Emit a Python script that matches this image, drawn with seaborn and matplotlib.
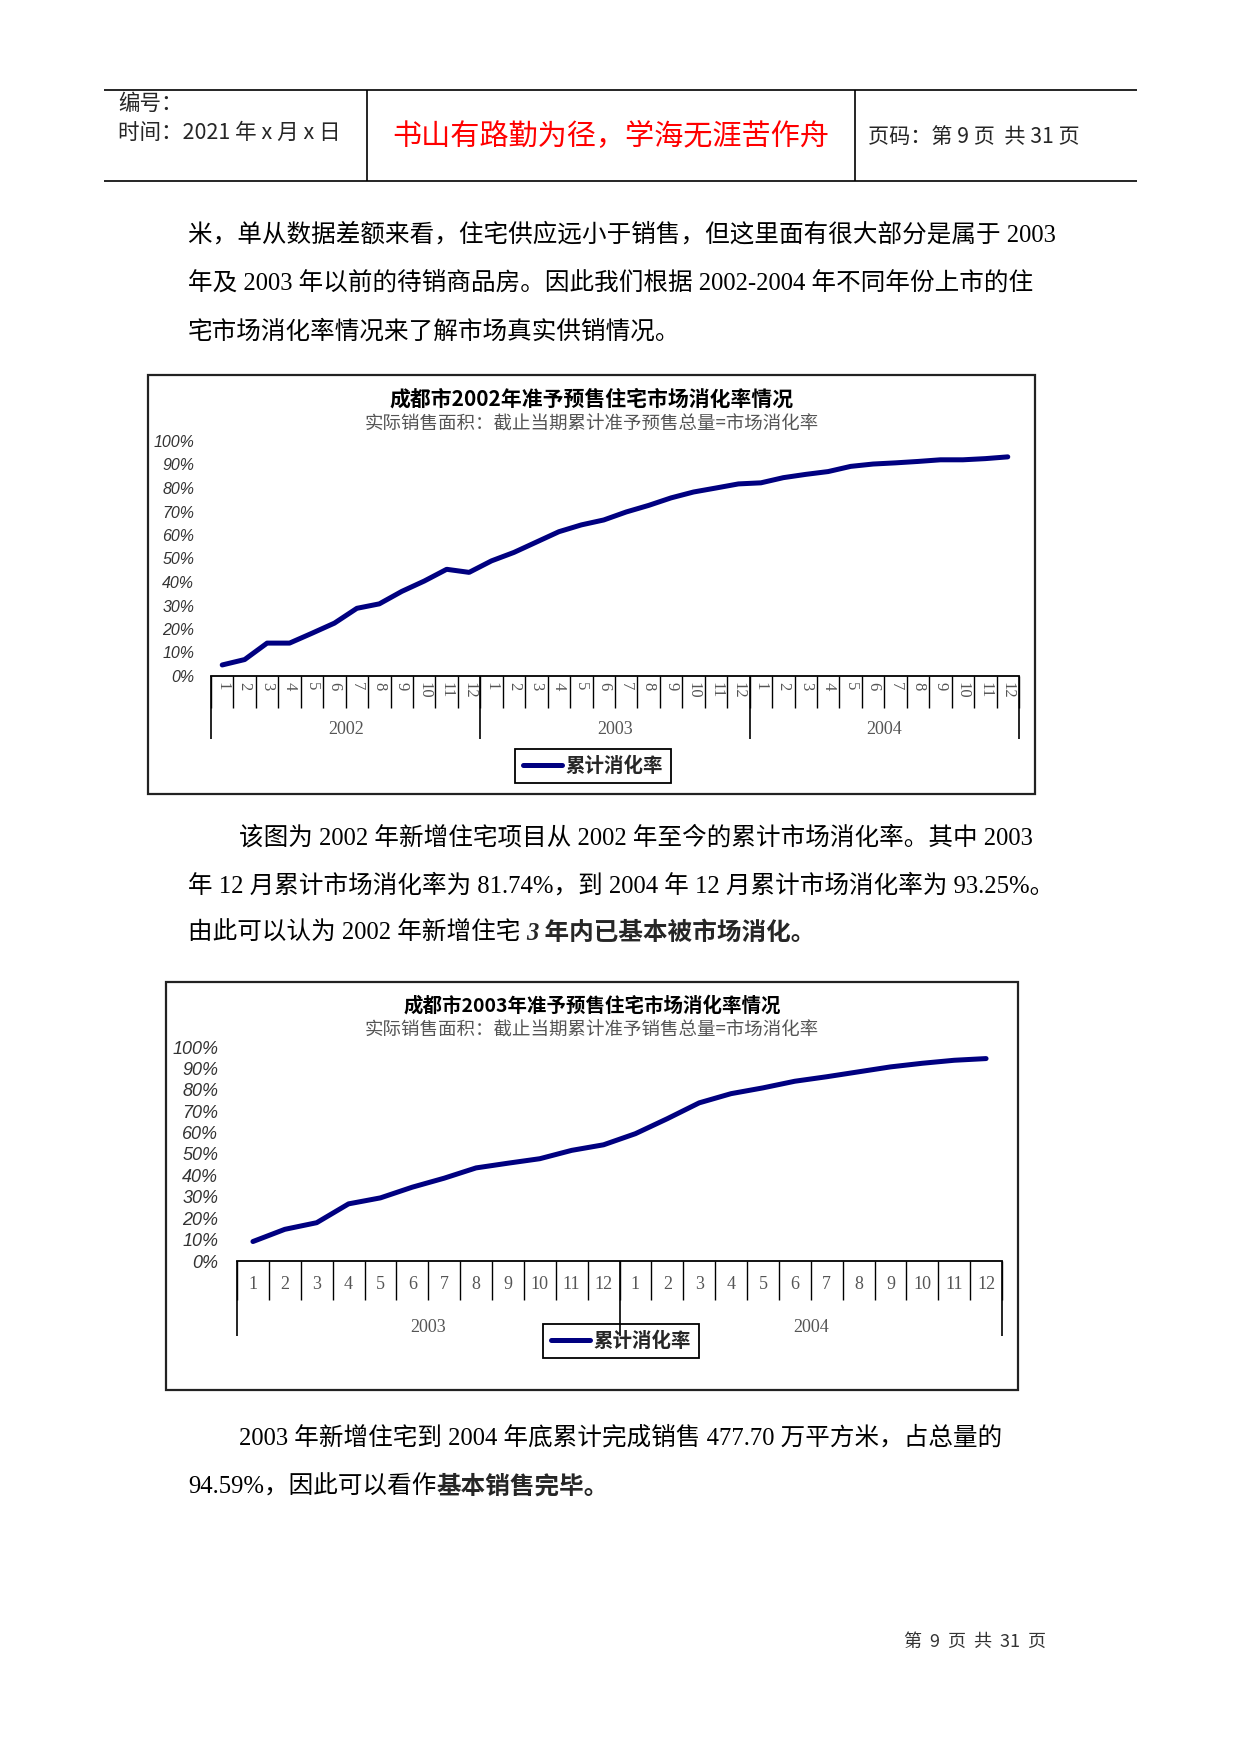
import matplotlib
matplotlib.use("Agg")
import matplotlib.pyplot as plt
from matplotlib.patches import Rectangle
import numpy as np
import pandas as pd
import seaborn as sns

W, H = 1241, 1754

# values (cumulative absorption rate, %)
months = [str(m) for m in range(1, 13)]
years_2002 = ["2002", "2003", "2004"]
years_2003 = ["2003", "2004"]
rate_2002 = [4.7, 7.0, 14.0, 14.0, 18.2, 22.5, 28.8, 30.7, 36.0, 40.4, 45.4, 44.1,
             49.0, 52.6, 57.0, 61.4, 64.3, 66.4, 69.8, 72.6, 75.8, 78.3, 80.0, 81.74,
             82.2, 84.4, 85.8, 87.0, 89.2, 90.2, 90.7, 91.3, 92.0, 92.0, 92.5, 93.25]
rate_2003 = [9.1, 14.8, 17.9, 26.7, 29.5, 34.5, 38.7, 43.5, 45.7, 47.8, 51.7, 54.3,
             59.5, 66.5, 73.9, 78.2, 80.9, 84.0, 86.1, 88.4, 90.7, 92.4, 93.8, 94.59]
y_ticks = list(range(0, 101, 10))

title_2002 = "成都市2002年准予预售住宅市场消化率情况"
subtitle_2002 = "实际销售面积：截止当期累计准予预售总量=市场消化率"
title_2003 = "成都市2003年准予预售住宅市场消化率情况"
subtitle_2003 = "实际销售面积：截止当期累计准予销售总量=市场消化率"
legend_label = "累计消化率"

sns.set_theme(style="white")
plt.rcParams["font.family"] = ["Noto Sans CJK SC", "DejaVu Sans"]
plt.rcParams["axes.unicode_minus"] = False

CJK = ["Noto Sans CJK SC", "DejaVu Sans"]
BODY = ["Liberation Serif", "Noto Sans CJK SC"]
NAVY = "#000080"
BODY_SIZE = 17.7


def px_rect(left, top, right, bottom):
    return [left / W, 1 - bottom / H, (right - left) / W, (bottom - top) / H]


def draw_chart(fig, page, rates, years, title, subtitle, box, plot, title_size,
               sub_offset, ytick_size, ytick_pad, month_rot, month_size, month_pad,
               cell_drop, year_drop, year_y, legend_center):
    # outer frame and titles
    bl, bt, br, bb = box
    page.add_patch(Rectangle((bl, bt), br - bl, bb - bt, fill=False,
                             edgecolor="#222222", lw=1.6))
    cx = (bl + br) / 2
    page.text(cx, bt + 24, title, ha="center", va="center",
              fontsize=title_size, fontweight="bold", family=CJK, color="black")
    page.text(cx, bt + sub_offset, subtitle, ha="center", va="center",
              fontsize=13.3, family=CJK, color="#555555")

    ax = fig.add_axes(px_rect(*plot))
    ax.set_facecolor("none")
    df = pd.DataFrame({"period": np.arange(len(rates)), "rate": rates})
    sns.lineplot(data=df, x="period", y="rate", ax=ax, color=NAVY, linewidth=3.6,
                 label=legend_label, solid_capstyle="round")

    n = len(rates)
    ax.set_xlim(-0.5, n - 0.5)
    ax.set_ylim(0, 100)
    ax.set_xlabel("")
    ax.set_ylabel("")
    ax.grid(False)
    sns.despine(ax=ax, left=True, top=True, right=True)
    ax.spines["bottom"].set_color("black")
    ax.spines["bottom"].set_linewidth(1.3)

    ax.set_yticks(y_ticks)
    ax.set_yticklabels([f"{v}%" for v in y_ticks], fontsize=ytick_size,
                       style="italic", family="Liberation Sans", color="#333333")
    ax.tick_params(axis="y", length=0, pad=ytick_pad)

    ax.set_xticks(range(n))
    ax.set_xticklabels(months * len(years), rotation=month_rot, fontsize=month_size,
                       family=BODY, color="#555555")
    ax.tick_params(axis="x", length=0, pad=month_pad)

    # month cells and year dividers below the axis
    plot_h = plot[3] - plot[1]
    bounds = np.arange(n + 1) - 0.5
    ax.vlines(bounds, -cell_drop / plot_h, 0, transform=ax.get_xaxis_transform(),
              colors="black", lw=1.0, clip_on=False)
    ax.vlines(bounds[::12], -year_drop / plot_h, 0, transform=ax.get_xaxis_transform(),
              colors="black", lw=1.2, clip_on=False, zorder=6)
    for k, yr in enumerate(years):
        ax.text(12 * k + 5.5, -(year_y - plot[3]) / plot_h, yr,
                transform=ax.get_xaxis_transform(), ha="center", va="center",
                fontsize=13, family=BODY, color="#555555")

    handles, labels = ax.get_legend_handles_labels()
    leg = ax.legend(handles, labels, loc="center", bbox_to_anchor=legend_center,
                    bbox_transform=page.transData, frameon=True, fancybox=False,
                    edgecolor="black", framealpha=1,
                    prop={"family": CJK, "weight": "bold", "size": 14},
                    handlelength=2.0, handletextpad=0.2, borderpad=0.4,
                    borderaxespad=0)
    leg.get_frame().set_linewidth(1.3)
    return ax


fig = plt.figure(figsize=(W / 100, H / 100), dpi=100)
fig.patch.set_facecolor("white")
page = fig.add_axes([0, 0, 1, 1])
page.set_xlim(0, W)
page.set_ylim(H, 0)
page.axis("off")

# header table
page.hlines([90, 181], 104, 1137, colors="black", lw=1.2)
page.vlines([367, 855], 90, 181, colors="black", lw=1.2)
page.text(118, 104, "编号：", ha="left", va="center", fontsize=15.5, family=CJK)
page.text(118, 133, "时间：2021 年 x 月 x 日", ha="left", va="center",
          fontsize=15.5, family=CJK)
page.text(611, 137, "书山有路勤为径，学海无涯苦作舟", ha="center", va="center",
          fontsize=21, family=CJK, color="#ff0000")
page.text(868, 137, "页码：第 9 页  共 31 页", ha="left", va="center",
          fontsize=15.2, family=CJK)

# body text
body = dict(ha="left", va="center", fontsize=BODY_SIZE, family=BODY, color="black")
page.text(188, 235, "米，单从数据差额来看，住宅供应远小于销售，但这里面有很大部分是属于 2003", **body)
page.text(188, 283, "年及 2003 年以前的待销商品房。因此我们根据 2002-2004 年不同年份上市的住", **body)
page.text(188, 332, "宅市场消化率情况来了解市场真实供销情况。", **body)

draw_chart(fig, page, rate_2002, years_2002, title_2002, subtitle_2002,
           box=(148, 375, 1035, 794), plot=(211, 441, 1019, 676), title_size=15,
           sub_offset=50, ytick_size=11.5, ytick_pad=12, month_rot=-90, month_size=12,
           month_pad=4, cell_drop=32, year_drop=63, year_y=730, legend_center=(593, 766))

page.text(239, 838, "该图为 2002 年新增住宅项目从 2002 年至今的累计市场消化率。其中 2003", **body)
page.text(188, 886, "年 12 月累计市场消化率为 81.74%，到 2004 年 12 月累计市场消化率为 93.25%。", **body)
t1 = page.text(188, 933, "由此可以认为 2002 年新增住宅 ", **body)
page.annotate("3 年内已基本被市场消化。", xy=(1, 0), xycoords=t1, ha="left", va="bottom",
              fontsize=BODY_SIZE, family=BODY, fontweight="bold", style="italic")

draw_chart(fig, page, rate_2003, years_2003, title_2003, subtitle_2003,
           box=(166, 982, 1018, 1390), plot=(237, 1047, 1002, 1261), title_size=14,
           sub_offset=49, ytick_size=13, ytick_pad=13.5, month_rot=0, month_size=13,
           month_pad=11, cell_drop=39, year_drop=75, year_y=1327,
           legend_center=(621, 1341))

page.text(239, 1438, "2003 年新增住宅到 2004 年底累计完成销售 477.70 万平方米，占总量的", **body)
t2 = page.text(188, 1487, "94.59%，因此可以看作", **body)
page.annotate("基本销售完毕。", xy=(1, 0), xycoords=t2, ha="left", va="bottom",
              fontsize=BODY_SIZE, family=BODY, fontweight="bold", style="italic")

# footer
page.text(904, 1642, "第  9  页  共  31  页", ha="left", va="center", fontsize=13,
          family=CJK, color="#333333")

fig.savefig("out.png", dpi=100)
